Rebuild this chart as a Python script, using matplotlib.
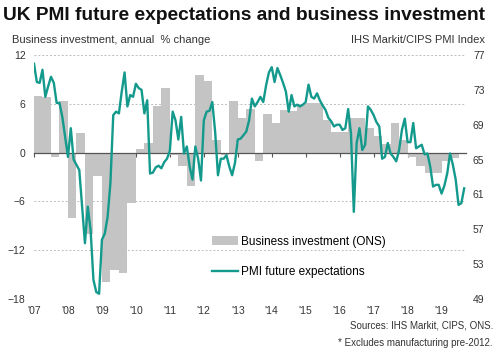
import matplotlib
matplotlib.use('Agg')
import matplotlib.pyplot as plt
import matplotlib.transforms as mtransforms
from matplotlib.patches import Patch
from matplotlib.lines import Line2D
import numpy as np

plt.rcParams['font.family'] = ['Liberation Sans', 'DejaVu Sans']

# business investment, annual % change, quarterly 2007Q1 - 2019Q2
invest = [6.9, 6.8, -0.5, 6.4,
          -8.1, 2.4, -10.0, -2.9,
          -15.9, -14.4, -14.8, -6.2,
          0.4, 1.2, 5.7, 7.9,
          -0.3, -1.6, -4.1, 9.6,
          8.8, 1.6, -0.3, 6.3,
          4.2, 5.3, -1.0, 4.7,
          3.6, 5.2, 5.1, 6.0,
          6.1, 6.1, 4.0, 2.5,
          2.5, 4.2, 4.3, 3.0,
          2.0, 1.1, 3.7, 1.6,
          -0.6, -1.6, -2.5, -2.5,
          -1.0, -0.7]

# PMI future expectations, monthly Jan 2007 - Sep 2019
pmi_07 = [76.0, 73.9, 73.8, 75.3, 72.2, 73.4, 74.5, 73.8, 71.5, 71.5, 69.9, 67.6]
pmi_08 = [65.3, 68.6, 65.0, 64.4, 63.8, 59.6, 55.4, 59.6, 56.9, 51.2, 49.8, 49.6]
pmi_09 = [55.8, 56.5, 58.4, 62.3, 70.1, 70.5, 70.3, 72.8, 75.0, 71.1, 72.4, 72.2]
pmi_10 = [73.7, 73.2, 73.0, 70.3, 71.8, 63.4, 63.5, 64.1, 64.3, 64.0, 64.7, 65.1]
pmi_11 = [66.0, 70.5, 69.5, 67.3, 69.9, 65.7, 66.5, 64.2, 62.7, 66.5, 65.1, 62.6]
pmi_12 = [69.5, 70.5, 70.6, 71.6, 68.2, 63.2, 65.1, 65.1, 65.5, 64.2, 63.2, 64.6]
pmi_13 = [67.3, 67.4, 67.8, 68.2, 69.5, 72.0, 71.1, 71.6, 72.2, 71.6, 73.5, 75.0]
pmi_14 = [75.6, 73.9, 75.5, 74.7, 73.8, 72.8, 70.5, 72.4, 71.1, 71.3, 71.1, 71.3]
pmi_15 = [71.6, 73.6, 72.2, 72.0, 72.6, 71.8, 71.2, 70.7, 69.8, 69.4, 68.8, 69.0]
pmi_16 = [69.0, 68.4, 68.6, 70.8, 68.0, 59.0, 66.9, 68.6, 66.1, 66.7, 71.1, 70.7]
pmi_17 = [70.1, 69.3, 68.8, 65.1, 65.3, 66.9, 65.7, 65.3, 64.8, 66.1, 68.4, 69.7]
pmi_18 = [67.0, 67.0, 69.2, 66.3, 66.5, 66.7, 65.6, 65.7, 64.2, 61.9, 62.1, 62.1]
pmi_19 = [61.1, 62.0, 63.4, 65.7, 64.4, 62.7, 59.8, 60.0, 61.7]

years = list(range(2007, 2020))
year_labels = ["'07", "'08", "'09", "'10", "'11", "'12", "'13",
               "'14", "'15", "'16", "'17", "'18", "'19"]

pmi = pmi_07 + pmi_08 + pmi_09 + pmi_10 + pmi_11 + pmi_12 + pmi_13 + \
    pmi_14 + pmi_15 + pmi_16 + pmi_17 + pmi_18 + pmi_19
x_pmi = 2007 + np.arange(len(pmi)) / 12
x_inv = 2007 + np.arange(len(invest)) / 4

teal = '#139a8c'
grey = '#c4c4c4'
txt = '#333333'

fig = plt.figure(figsize=(5.03, 3.53), dpi=100)
ax = fig.add_axes([34 / 503, 1 - 299 / 353, 432 / 503, 244 / 353])

ax.bar(x_inv, invest, width=0.25, align='edge', color=grey, zorder=1)
ax.set_xlim(2007, 2019.72)
ax.set_ylim(-18, 12)
ax.set_yticks([-18, -12, -6, 0, 6, 12])
ax.yaxis.grid(True, color='#bdbdbd', linestyle=(0, (2, 2)), linewidth=0.7)
ax.set_axisbelow(True)
for s in ['top', 'right', 'left']:
    ax.spines[s].set_visible(False)
ax.spines['bottom'].set_position(('data', 0))
ax.spines['bottom'].set_color('#555555')
ax.spines['bottom'].set_linewidth(0.9)
ax.spines['bottom'].set_zorder(3)
ax.set_xticks(years)
ax.tick_params(axis='x', direction='out', length=3, color='#555555',
               labelbottom=False)
ax.tick_params(axis='y', length=0, labelsize=7.5, labelcolor=txt, pad=6)

trans = mtransforms.blended_transform_factory(ax.transData, ax.transAxes)
for yr, lab in zip(years, year_labels):
    ax.text(yr, -0.05, lab, transform=trans, ha='center', va='center',
            fontsize=7.5, color=txt)

ax2 = ax.twinx()
ax2.plot(x_pmi, pmi, color=teal, linewidth=1.7, zorder=5)
ax2.set_ylim(49, 77)
ax2.set_yticks([49, 53, 57, 61, 65, 69, 73, 77])
ax2.tick_params(axis='y', length=0, labelsize=7.5, labelcolor=txt, pad=5)
for s in ax2.spines.values():
    s.set_visible(False)

handles = [Patch(facecolor=grey, edgecolor='none'),
           Line2D([0], [0], color=teal, linewidth=1.7)]
ax.legend(handles, ['Business investment (ONS)', 'PMI future expectations'],
          loc='upper left', bbox_to_anchor=(206 / 503, 1 - 230 / 353),
          bbox_transform=fig.transFigure, frameon=False, fontsize=8.5,
          handlelength=2.2, handleheight=0.8, handletextpad=0.25,
          labelspacing=1.55, borderpad=0)

fig.text(3 / 503, 1 - 16 / 353,
         'UK PMI future expectations and business investment',
         fontsize=13.8, fontweight='bold', color='#111111', va='center')
fig.text(12 / 503, 1 - 40 / 353, 'Business investment, annual  % change',
         fontsize=8, color=txt, va='center')
fig.text(485 / 503, 1 - 40 / 353, 'IHS Markit/CIPS PMI Index',
         fontsize=8, color=txt, va='center', ha='right')
fig.text(493 / 503, 1 - 326 / 353, 'Sources: IHS Markit, CIPS, ONS.',
         fontsize=7, color=txt, va='center', ha='right')
fig.text(493 / 503, 1 - 343 / 353, '* Excludes manufacturing pre-2012.',
         fontsize=7, color=txt, va='center', ha='right')

fig.savefig('out.png', dpi=100)
